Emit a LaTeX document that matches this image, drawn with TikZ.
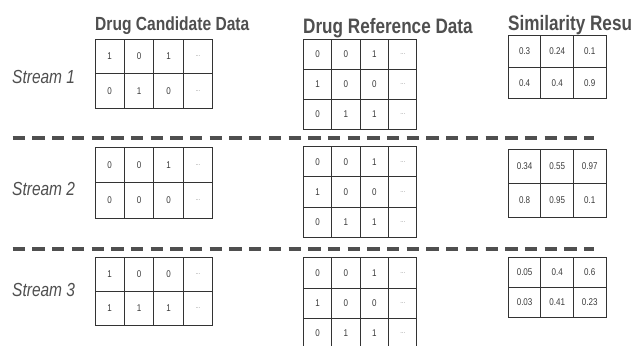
\documentclass[tikz,border=0pt]{standalone}
\usepackage{fontspec}
\newfontfamily\narrowsans[FakeStretch=0.82]{Liberation Sans}
\definecolor{inkgray}{HTML}{4F4F4F}
\definecolor{gridline}{HTML}{333333}
\definecolor{celltext}{HTML}{3A3A3A}
\definecolor{dotgray}{HTML}{8A8A8A}
\newcommand{\moredots}{{\color{dotgray}\fontsize{7}{8}\selectfont ...}}
% draw a table of cells: #1 name, #2 left, #3 top, #4 cell width, #5 cell height, #6 rows
\newcommand{\datatable}[6]{%
  \foreach \row [count=\i] in {#6} {%
    \foreach \v [count=\j] in \row {%
      \node[cell, minimum width=#4pt, minimum height=#5pt]
        (#1-\i-\j) at ({#2+(\j-1)*#4}, {#3+(\i-1)*#5}) {\v};
    }%
  }%
}
\begin{document}
\begin{tikzpicture}[x=1pt, y=-1pt,
  cell/.style={draw=gridline, line width=0.9pt, anchor=north west, inner sep=0pt,
    outer sep=0pt, text=celltext, font=\narrowsans\fontsize{9.8}{11}\selectfont},
  title/.style={anchor=base west, inner sep=0pt, text=inkgray},
  streamlabel/.style={anchor=base west, inner sep=0pt, text=inkgray,
    font=\narrowsans\itshape\fontsize{18.9}{22}\selectfont},
  divider/.style={draw=inkgray, line width=3.6pt, dash pattern=on 12.3pt off 7.4pt}]
\useasboundingbox (0,0) rectangle (631,345);

% column headings
\node[title, font=\narrowsans\bfseries\fontsize{19}{22}\selectfont] (hcand) at (95,30.7) {Drug Candidate Data};
\node[title, font=\narrowsans\bfseries\fontsize{20.9}{24}\selectfont] (href) at (303,33.6) {Drug Reference Data};
\node[title, font=\narrowsans\bfseries\fontsize{20.9}{24}\selectfont] (hsim) at (508,31) {Similarity Resu};

% stream labels
\node[streamlabel] (s1) at (12,83.5) {Stream 1};
\node[streamlabel] (s2) at (12,195) {Stream 2};
\node[streamlabel] (s3) at (12,296.5) {Stream 3};

% dividers between streams
\coordinate (d1a) at (12.7,138);
\coordinate (d1b) at (594,138);
\coordinate (d2a) at (12.7,249);
\coordinate (d2b) at (594,249);
\draw[divider] (d1a) -- (d1b);
\draw[divider] (d2a) -- (d2b);

% stream 1
\datatable{candA}{95}{39.3}{29.4}{34.5}{{1,0,1,\moredots},{0,1,0,\moredots}}
\datatable{refA}{303.3}{39.3}{28.4}{30}{{0,0,1,\moredots},{1,0,0,\moredots},{0,1,1,\moredots}}
\datatable{simA}{508.3}{35.7}{32.6}{31.3}{{0.3,0.24,0.1},{0.4,0.4,0.9}}

% stream 2
\datatable{candB}{95}{147.3}{29.4}{35.5}{{0,0,1,\moredots},{0,0,0,\moredots}}
\datatable{refB}{303.3}{146.7}{28.4}{30.2}{{0,0,1,\moredots},{1,0,0,\moredots},{0,1,1,\moredots}}
\datatable{simB}{508.3}{149}{32.6}{34.2}{{0.34,0.55,0.97},{0.8,0.95,0.1}}

% stream 3
\datatable{candC}{95}{257.3}{29.4}{34.2}{{1,0,0,\moredots},{1,1,1,\moredots}}
\datatable{refC}{303.3}{257.7}{28.4}{30.3}{{0,0,1,\moredots},{1,0,0,\moredots},{0,1,1,\moredots}}
\datatable{simC}{508.3}{257.3}{32.6}{30.2}{{0.05,0.4,0.6},{0.03,0.41,0.23}}
\end{tikzpicture}
\end{document}
